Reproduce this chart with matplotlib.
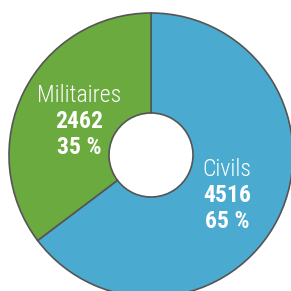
import matplotlib
matplotlib.use("Agg")
import matplotlib.pyplot as plt

# data
labels = ["Civils", "Militaires"]
values = [4516, 2462]
percents = [65, 35]
colors = ["#4aaad0", "#6aaa3f"]

fam = ["Roboto Condensed", "DejaVu Sans"]

W = 291
fig = plt.figure(figsize=(W / 100, W / 100), dpi=100)
ax = fig.add_axes([0, 0, 1, 1])

cx, cy = 151, W - 155
R, r = 142, 42
ax.pie(values, colors=colors, startangle=90, counterclock=False,
       center=(cx, cy), radius=R,
       wedgeprops=dict(width=R - r, edgecolor="#555555", linewidth=1.2))
ax.set_xlim(0, W)
ax.set_ylim(0, W)
ax.set_aspect("equal")
ax.axis("off")

# label positions (pixels from top-left)
pos = {"Civils": (227, 169), "Militaires": (79, 95)}
for lab, v, p in zip(labels, values, percents):
    x, y = pos[lab]
    ax.text(x, W - y, lab, ha="center", va="center", color="white",
            fontsize=17, fontweight="light", family=fam)
    ax.text(x, W - y - 27, str(v), ha="center", va="center", color="white",
            fontsize=17, fontweight="bold", family=fam)
    ax.text(x, W - y - 53, f"{p} %", ha="center", va="center", color="white",
            fontsize=17, fontweight="bold", family=fam)

fig.savefig("out.png", dpi=100)
